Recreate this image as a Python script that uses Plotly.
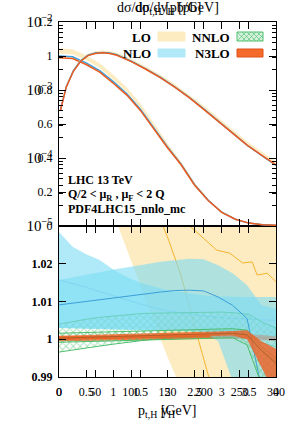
import plotly.graph_objects as go

# ---------------- data ----------------
yh = [0.0, 0.25, 0.5, 0.75, 1.0, 1.25, 1.5, 1.75, 2.0, 2.25, 2.5, 2.75, 3.0, 3.25, 3.5, 3.75, 4.0]
yh_ticks = [0, 0.5, 1, 1.5, 2, 2.5, 3, 3.5, 4]
pt_ticks = [0, 50, 100, 150, 200, 250, 300]
ratio_ticks = [0.99, 1.0, 1.01, 1.02]

# d sigma / d y_H  [pb]
yh_n3lo = [0.990, 0.985, 0.950, 0.905, 0.840, 0.770, 0.680, 0.570, 0.460, 0.360, 0.240, 0.150, 0.080, 0.040, 0.017, 0.007, 0.004]
yh_nlo = [1.000, 0.995, 0.960, 0.914, 0.849, 0.778, 0.687, 0.576, 0.465, 0.364, 0.243, 0.151, 0.081, 0.040, 0.017, 0.007, 0.004]
yh_lo_low = [1.015, 1.010, 0.975, 0.930, 0.862, 0.790, 0.697, 0.583, 0.468, 0.362, 0.238, 0.146, 0.077, 0.038, 0.016, 0.006, 0.003]
yh_lo_high = [1.045, 1.040, 1.005, 0.958, 0.890, 0.815, 0.720, 0.603, 0.487, 0.380, 0.254, 0.160, 0.086, 0.044, 0.019, 0.008, 0.005]

# d sigma / d p_t,H  [pb/GeV]
pt = [2, 10, 20, 30, 40, 50, 60, 70, 80, 90, 100, 120, 140, 160, 180, 200, 220, 240, 260, 280, 300]
pt_n3lo = [5.0e-4, 1.1e-3, 1.9e-3, 2.65e-3, 3.2e-3, 3.45e-3, 3.52e-3, 3.45e-3, 3.25e-3, 2.95e-3, 2.62e-3,
           2.02e-3, 1.52e-3, 1.1e-3, 7.7e-4, 5.2e-4, 3.5e-4, 2.3e-4, 1.55e-4, 1.1e-4, 7.9e-5]
pt_nlo = [5.05e-4, 1.11e-3, 1.92e-3, 2.68e-3, 3.24e-3, 3.49e-3, 3.56e-3, 3.49e-3, 3.29e-3, 2.99e-3, 2.65e-3,
          2.05e-3, 1.54e-3, 1.115e-3, 7.8e-4, 5.27e-4, 3.54e-4, 2.32e-4, 1.55e-4, 1.09e-4, 7.8e-5]
pt_lo_low = [4.9e-4, 1.08e-3, 1.87e-3, 2.62e-3, 3.18e-3, 3.43e-3, 3.5e-3, 3.44e-3, 3.25e-3, 2.96e-3, 2.64e-3,
             2.05e-3, 1.55e-3, 1.13e-3, 7.9e-4, 5.35e-4, 3.6e-4, 2.37e-4, 1.6e-4, 1.14e-4, 8.2e-5]
pt_lo_high = [5.5e-4, 1.2e-3, 2.05e-3, 2.85e-3, 3.45e-3, 3.72e-3, 3.8e-3, 3.73e-3, 3.52e-3, 3.2e-3, 2.86e-3,
              2.22e-3, 1.68e-3, 1.23e-3, 8.6e-4, 5.85e-4, 3.95e-4, 2.6e-4, 1.75e-4, 1.25e-4, 8.9e-5]

# ratios to N3LO, y_H
yh_r_lo_low = [1.0714, 1.0619, 1.0524, 1.0428, 1.0333, 1.0238, 1.0143, 1.0048, 0.9953, 0.9870, 0.9850, 0.9850, 0.9850, 0.9850, 0.9850, 0.9850, 0.9850]
yh_r_lo_high = [1.090, 1.090, 1.090, 1.090, 1.090, 1.090, 1.090, 1.090, 1.090, 1.090, 1.090, 1.090, 1.090, 1.090, 1.090, 1.090, 1.090]
yh_r_lo = [1.065, 1.065, 1.064, 1.062, 1.058, 1.052, 1.044, 1.0358, 1.0271, 1.0169, 1.0034, 0.9884, 0.975, 0.962, 0.952, 0.945, 0.940]
yh_r_nlo_high = [1.0284, 1.0245, 1.0225, 1.0210, 1.0185, 1.0165, 1.0150, 1.0140, 1.0130, 1.0125, 1.0120, 1.0115, 1.0113, 1.0112, 1.0112, 1.0112, 1.0112]
yh_r_nlo = [1.0157, 1.0148, 1.0138, 1.0126, 1.0115, 1.0105, 1.0095, 1.0083, 1.0075, 1.0070, 1.0065, 1.0060, 1.0057, 1.0055, 1.0053, 1.0051, 1.0051]
yh_r_nlo_low = [1.0030, 1.0030, 1.0029, 1.0028, 1.0027, 1.0026, 1.0025, 1.0024, 1.0023, 1.0022, 1.0021, 1.0019, 1.0017, 1.0015, 1.0012, 1.0008, 1.0005]
yh_r_nnlo_high = [1.0040, 1.0047, 1.0053, 1.0058, 1.0062, 1.0066, 1.0068, 1.0069, 1.0070, 1.0071, 1.0072, 1.0072, 1.0072, 1.0070, 1.0066, 1.0045, 1.0030]
yh_r_nnlo_low = [0.9966, 0.9971, 0.9977, 0.9982, 0.9987, 0.9992, 0.9996, 1.0000, 1.0003, 1.0006, 1.0008, 1.0010, 1.0012, 1.0012, 1.0010, 0.9990, 0.9980]
yh_r_n3lo_high = [1.0008, 1.0008, 1.0009, 1.0009, 1.0010, 1.0010, 1.0011, 1.0012, 1.0012, 1.0013, 1.0013, 1.0014, 1.0014, 1.0014, 1.0013, 1.0011, 1.0008]
yh_r_n3lo_low = [0.9995, 0.9995, 0.9996, 0.9996, 0.9997, 0.9997, 0.9998, 0.9999, 0.9999, 1.0000, 1.0000, 1.0001, 1.0001, 1.0001, 1.0000, 0.9998, 0.9995]
yh_r_n3lo = [1.0001, 1.0001, 1.0002, 1.0002, 1.0003, 1.0003, 1.0004, 1.0005, 1.0005, 1.0006, 1.0006, 1.0007, 1.0007, 1.0007, 1.0006, 1.0004, 1.0001]

# ratios to N3LO, p_t,H
pt_r = [0, 20, 40, 60, 80, 100, 120, 140, 160, 180, 200, 220, 240, 260, 280, 300]
pt_r_lo_x = [0, 100, 140, 181, 218, 236, 254, 267, 274, 288, 300]
pt_r_lo = [1.080, 1.060, 1.045, 1.030, 1.0236, 1.0228, 1.0202, 1.0205, 1.0170, 1.0175, 1.0152]
pt_r_nlo_high = [1.0157, 1.0165, 1.0172, 1.0179, 1.0186, 1.0193, 1.0199, 1.0205, 1.0210, 1.0213, 1.0212, 1.0196, 1.0175, 1.0143, 1.0090, 1.0080]
pt_r_nlo = [1.0091, 1.0096, 1.0101, 1.0106, 1.0111, 1.0116, 1.0120, 1.0125, 1.0129, 1.0130, 1.0128, 1.0112, 1.0090, 1.0055, 0.9870, 0.9750]
pt_r_nlo_low = [1.0030, 1.0029, 1.0028, 1.0027, 1.0026, 1.0025, 1.0024, 1.0023, 1.0022, 1.0021, 1.0020, 0.9995, 0.9890, 0.9800, 0.9700, 0.9600]
pt_r_nnlo_high = [1.0016, 1.0017, 1.0018, 1.0019, 1.0020, 1.0021, 1.0022, 1.0023, 1.0024, 1.0025, 1.0026, 1.0027, 1.0028, 1.0024, 0.9980, 0.9950]
pt_r_nnlo_low = [0.9992, 0.9993, 0.9994, 0.9995, 0.9996, 0.9997, 0.9998, 0.9999, 1.0000, 1.0001, 1.0002, 1.0003, 1.0004, 0.9985, 0.9880, 0.9810]
pt_r_n3lo_high = [1.0009, 1.0010, 1.0011, 1.0012, 1.0013, 1.0014, 1.0015, 1.0016, 1.0017, 1.0018, 1.0019, 1.0020, 1.0022, 1.0024, 0.9995, 0.9975]
pt_r_n3lo_low = [0.9998, 0.9999, 1.0000, 1.0001, 1.0002, 1.0003, 1.0004, 1.0005, 1.0006, 1.0007, 1.0008, 1.0009, 1.0010, 1.0000, 0.9925, 0.9850]
pt_r_n3lo = [1.0003, 1.0004, 1.0005, 1.0006, 1.0007, 1.0008, 1.0009, 1.0010, 1.0011, 1.0012, 1.0013, 1.0014, 1.0016, 1.0012, 0.9970, 0.9937]

# ---------------- style ----------------
FONT = "Liberation Serif, Times New Roman, serif"
BEIGE = "#fdebc1"
GOLD = "#f5b52e"
BLUE_FILL = "rgba(123,220,243,0.6)"
BLUE_LINE = "#3b9fd9"
BLUE_LIGHT = "#86cdea"
GREEN = "#4fbf6e"
ORANGE_FILL = "rgba(240,95,35,0.8)"
ORANGE_LINE = "#ee5a1e"


def band(x, lo, hi, xa, ya, fillcolor, line_color="rgba(0,0,0,0)", width=0, pattern=None):
    tr = go.Scatter(
        x=list(x) + list(x)[::-1], y=list(hi) + list(lo)[::-1],
        fill="toself", fillcolor=fillcolor, mode="lines",
        line=dict(color=line_color, width=width),
        xaxis=xa, yaxis=ya, hoverinfo="skip", showlegend=False,
    )
    if pattern is not None:
        tr.fillpattern = pattern
    return tr


def line(x, y, xa, ya, color, width=1.5):
    return go.Scatter(x=x, y=y, mode="lines", line=dict(color=color, width=width),
                      xaxis=xa, yaxis=ya, hoverinfo="skip", showlegend=False)


hatch = dict(shape="x", fgcolor=GREEN, bgcolor="rgba(0,0,0,0)", size=5, solidity=0.35)

fig = go.Figure()

# ---- top panel: y_H (x3, y) ----
fig.add_trace(band(yh, yh_lo_low, yh_lo_high, "x3", "y", BEIGE))
fig.add_trace(line(yh, yh_nlo, "x3", "y", BLUE_LINE, 1.5))
fig.add_trace(line(yh, yh_n3lo, "x3", "y", ORANGE_LINE, 1.5))
# ---- top panel: p_T (x4, y2) ----
fig.add_trace(band(pt, pt_lo_low, pt_lo_high, "x4", "y2", BEIGE))
fig.add_trace(line(pt, pt_nlo, "x4", "y2", BLUE_LINE, 1.5))
fig.add_trace(line(pt, pt_n3lo, "x4", "y2", ORANGE_LINE, 1.5))

# ---- ratio panel: y_H (x, y3) ----
fig.add_trace(band(yh, yh_r_lo_low, yh_r_lo_high, "x", "y3", BEIGE))
fig.add_trace(line(yh, yh_r_lo, "x", "y3", GOLD, 1))
fig.add_trace(band(yh, yh_r_nlo_low, yh_r_nlo_high, "x", "y3", BLUE_FILL))
fig.add_trace(line(yh, yh_r_nlo, "x", "y3", BLUE_LIGHT, 1))
fig.add_trace(band(yh, yh_r_nnlo_low, yh_r_nnlo_high, "x", "y3", "rgba(0,0,0,0)", GREEN, 1, hatch))
fig.add_trace(band(yh, yh_r_n3lo_low, yh_r_n3lo_high, "x", "y3", ORANGE_FILL))
fig.add_trace(line(yh, yh_r_n3lo, "x", "y3", ORANGE_LINE, 1))

# ---- ratio panel: p_T (x2, y4) ----
fig.add_trace(band(pt_r, pt_r_nlo_low, pt_r_nlo_high, "x2", "y4", BLUE_FILL))
fig.add_trace(line(pt_r, pt_r_nlo, "x2", "y4", BLUE_LINE, 1))
fig.add_trace(band(pt_r, pt_r_nnlo_low, pt_r_nnlo_high, "x2", "y4", "rgba(0,0,0,0)", GREEN, 1, hatch))
fig.add_trace(band(pt_r, pt_r_n3lo_low, pt_r_n3lo_high, "x2", "y4", ORANGE_FILL))
fig.add_trace(line(pt_r, pt_r_n3lo, "x2", "y4", "#b0622a", 1))
fig.add_trace(line(pt_r_lo_x, pt_r_lo, "x2", "y4", GOLD, 1))

# ---------------- layout ----------------
L, R, T, B = 59, 15, 22, 49
W, H = 291, 426
PW, PH = W - L - R, H - T - B
split = 151 / PH

common = dict(ticks="inside", ticklen=7, tickcolor="black", tickwidth=1, showline=True,
              linecolor="black", linewidth=1, mirror="ticks", showgrid=False, zeroline=False,
              automargin=False, tickfont=dict(family=FONT, size=12, color="black"))

fig.update_layout(
    width=W, height=H, margin=dict(l=L, r=R, t=T, b=B, pad=0, autoexpand=False),
    paper_bgcolor="white", plot_bgcolor="white", showlegend=False,
    font=dict(family=FONT, size=12, color="black"),
    xaxis=dict(domain=[0, 1], anchor="y3", range=[0, 4], tickvals=yh_ticks, ticklabelstandoff=4, **common),
    xaxis2=dict(overlaying="x", anchor="y3", range=[0, 300], tickvals=pt_ticks, ticklabelstandoff=4, **common),
    xaxis3=dict(domain=[0, 1], anchor="y", range=[0, 4], tickvals=yh_ticks, showticklabels=False, **common),
    xaxis4=dict(overlaying="x3", anchor="y", range=[0, 300], tickvals=pt_ticks, showticklabels=False, **common),
    yaxis=dict(domain=[split, 1], anchor="x3", range=[0, 1.2], dtick=0.2, ticklabelstandoff=3, **common),
    yaxis2=dict(overlaying="y", anchor="x3", type="log", range=[-5, -2], dtick=1, exponentformat="power",
                ticklabelstandoff=3,
                minor=dict(ticks="inside", ticklen=4, tickcolor="black", dtick="D1", showgrid=False), **common),
    yaxis3=dict(domain=[0, split], anchor="x", range=[0.99, 1.03], tickvals=ratio_ticks, ticklabelstandoff=3,
                **{k: v for k, v in common.items() if k != "tickfont"},
                tickfont=dict(family=FONT, size=12, color="black", weight="bold")),
    yaxis4=dict(overlaying="y3", anchor="x", range=[0.99, 1.03], visible=False),
)


def px_x(p):
    return (p - L) / PW


def px_y(p):
    return (H - B - p) / PH


ann = []
# titles
ann.append(dict(text="dσ/dp<sub>t,H</sub> [pb/GeV]", x=0.5, y=px_y(8), xref="paper", yref="paper",
                showarrow=False, xanchor="center", yanchor="middle", font=dict(family=FONT, size=14)))
ann.append(dict(text="dσ/dy<sub>H</sub> [pb]", x=0.5, y=px_y(8), xref="paper", yref="paper",
                showarrow=False, xanchor="center", yanchor="middle", font=dict(family=FONT, size=14)))
ann.append(dict(text="p<sub>t,H</sub> [GeV]", x=0.5, y=px_y(411), xref="paper", yref="paper",
                showarrow=False, xanchor="center", yanchor="middle", font=dict(family=FONT, size=14)))
ann.append(dict(text="y<sub>H</sub>", x=0.5, y=px_y(411), xref="paper", yref="paper",
                showarrow=False, xanchor="center", yanchor="middle", font=dict(family=FONT, size=14)))
# info text
bold = dict(family=FONT, size=12, color="black", weight="bold")
for txt, yy in [("LHC 13 TeV", 180), ("Q/2 < μ<sub>R</sub> , μ<sub>F</sub> < 2 Q", 195), ("PDF4LHC15_nnlo_mc", 209)]:
    ann.append(dict(text=txt, x=px_x(66), y=px_y(yy), xref="paper", yref="paper", showarrow=False,
                    xanchor="left", yanchor="middle", font=bold))
# legend labels
legend_font = dict(family=FONT, size=13, color="black", weight="bold")
for txt, xx, yy in [("LO", 153, 37), ("NLO", 153, 53), ("NNLO", 232, 37), ("N3LO", 232, 53)]:
    ann.append(dict(text=txt, x=px_x(xx), y=px_y(yy), xref="paper", yref="paper", showarrow=False,
                    xanchor="right", yanchor="middle", font=legend_font))
fig.update_layout(annotations=ann)

shapes = []
def swatch(x0, x1, y0, y1, fill, border):
    return dict(type="rect", xref="paper", yref="paper", x0=px_x(x0), x1=px_x(x1), y0=px_y(y1), y1=px_y(y0),
                fillcolor=fill, line=dict(color=border, width=1))

shapes.append(swatch(158, 185, 32, 41, BEIGE, BEIGE))
shapes.append(swatch(158, 185, 49, 57, "#b2e9f8", "#b2e9f8"))
shapes.append(swatch(237, 263, 32, 41, "#d3f0da", GREEN))
shapes.append(swatch(237, 263, 49, 57, "#f46a2c", "#e0501a"))
# cross-hatch inside NNLO swatch
for i in range(0, 27, 5):
    xe = min(237 + i + 9, 263)
    shapes.append(dict(type="line", xref="paper", yref="paper", x0=px_x(237 + i), y0=px_y(41),
                       x1=px_x(xe), y1=px_y(41 - (xe - 237 - i)), line=dict(color=GREEN, width=0.6)))
    shapes.append(dict(type="line", xref="paper", yref="paper", x0=px_x(237 + i), y0=px_y(32),
                       x1=px_x(xe), y1=px_y(32 + (xe - 237 - i)), line=dict(color=GREEN, width=0.6)))
fig.update_layout(shapes=shapes)

fig.write_html("out.html", config={"displayModeBar": False},
               post_script="document.body.style.margin='0';document.body.style.overflow='hidden';")
